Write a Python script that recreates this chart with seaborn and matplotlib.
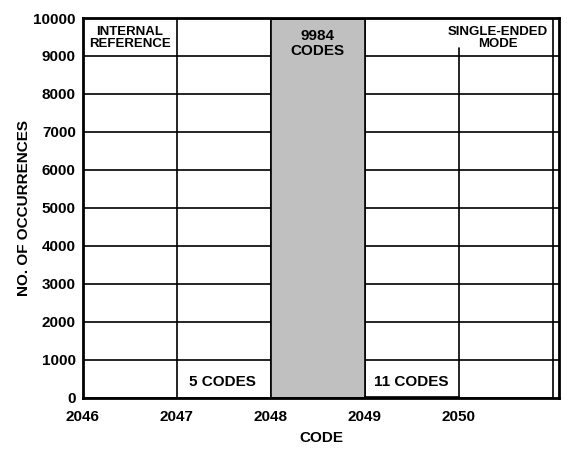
import matplotlib
matplotlib.use("Agg")
import matplotlib.pyplot as plt
import seaborn as sns

# histogram data: output code and number of hits
codes = [2047, 2048, 2049]
counts = [5, 9984, 11]
bin_edges = [2046, 2047, 2048, 2049, 2050, 2051]
x_ticks = [2046, 2047, 2048, 2049, 2050]
y_ticks = [0, 1000, 2000, 3000, 4000, 5000, 6000, 7000, 8000, 9000, 10000]

sns.set_style("white")
plt.rcParams['font.family'] = ['Liberation Sans', 'DejaVu Sans']
plt.rcParams['font.weight'] = 'bold'
plt.rcParams['text.color'] = 'black'
plt.rcParams['axes.labelcolor'] = 'black'
plt.rcParams['xtick.color'] = 'black'
plt.rcParams['ytick.color'] = 'black'

fig = plt.figure(figsize=(5.67, 4.5), dpi=100)
ax = fig.add_axes([0.146, 0.116, 0.84, 0.844])

# grid first, then the bars on top
for y in y_ticks[1:-1]:
    ax.axhline(y, color='black', lw=1.2, zorder=1)
for x in [2047, 2048, 2049, 2051]:
    ax.axvline(x, color='black', lw=1.2, zorder=1)
ax.axvline(2050, ymax=0.92, color='black', lw=1.2, zorder=1)

sns.histplot(x=codes, weights=counts, bins=bin_edges, ax=ax,
             color='#c0c0c0', alpha=1, edgecolor='black', linewidth=1.2, zorder=2)

ax.set_xlim(2046, 2051.064)
ax.set_ylim(0, 10000)
ax.set_xticks(x_ticks)
ax.set_yticks(y_ticks)
ax.tick_params(labelsize=11, length=0)
ax.tick_params(axis='x', pad=9)
ax.tick_params(axis='y', pad=5)
for lab in ax.get_xticklabels() + ax.get_yticklabels():
    lab.set_fontweight('bold')
for s in ax.spines.values():
    s.set_linewidth(2)
    s.set_color('black')

ax.set_xlabel('CODE', fontsize=11, fontweight='bold', labelpad=5)
ax.set_ylabel('NO. OF OCCURRENCES', fontsize=11, fontweight='bold', labelpad=2)

ax.text(2046.5, 9474, 'INTERNAL\nREFERENCE', ha='center', va='center',
        fontsize=9.5, fontweight='bold', linespacing=1.1, zorder=3)
ax.text(2048.5, 9330, '9984\nCODES', ha='center', va='center',
        fontsize=11, fontweight='bold', linespacing=1.15, zorder=3)
ax.text(2050.41, 9474, 'SINGLE-ENDED\nMODE', ha='center', va='center',
        fontsize=9.5, fontweight='bold', linespacing=1.1, zorder=3)
ax.text(2047.49, 408, '5 CODES', ha='center', va='center',
        fontsize=11, fontweight='bold', zorder=3)
ax.text(2049.49, 408, '11 CODES', ha='center', va='center',
        fontsize=11, fontweight='bold', zorder=3)

fig.savefig('out.png', dpi=100)
